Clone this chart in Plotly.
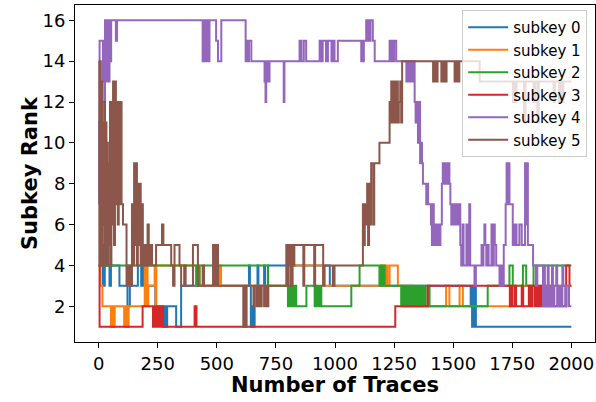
import plotly.graph_objects as go

# ---- data: change points (x = number of traces, y = rank), drawn as steps ----
names = ["subkey 0", "subkey 1", "subkey 2", "subkey 3", "subkey 4", "subkey 5"]
colors = ["#1f77b4", "#ff7f0e", "#2ca02c", "#d62728", "#9467bd", "#8c564b"]

s0_x = [0, 10, 18, 26, 32, 46, 52, 88, 122, 126, 132, 166, 180, 186, 192, 240, 271, 278, 285, 290, 328, 349,
        636, 640, 644, 648, 652, 660, 672, 676, 700, 704, 716, 978, 1574, 1577, 1580, 1584, 1588, 1592, 1596, 2000]
s0_y = [4, 5, 3, 5, 4, 3, 4, 3, 1, 2, 3, 4, 3, 4, 3, 2, 1, 2, 1, 2, 1, 3,
        4, 3, 1, 2, 1, 3, 4, 3, 4, 3, 4, 3, 2, 3, 1, 3, 1, 3, 1, 1]

s1_x = [0, 8, 16, 52, 58, 62, 68, 108, 114, 118, 124, 195, 199, 202, 207, 210, 237, 241, 244, 413, 420, 427,
        512, 518, 808, 814, 822, 950, 1195, 1200, 1209, 1213, 1218, 1222, 1231, 1266, 1290, 1296, 1302, 1308,
        1318, 1324, 1330, 1470, 1484, 1527, 1541, 1740, 2000]
s1_y = [4, 3, 2, 1, 2, 1, 2, 1, 2, 1, 2, 4, 2, 4, 2, 3, 4, 2, 4, 3, 4, 3,
        4, 3, 4, 3, 4, 3, 4, 3, 4, 3, 4, 3, 4, 3, 2, 3, 2, 3,
        2, 3, 2, 3, 2, 3, 2, 3, 3]

s2_x = [0, 6, 413, 418, 422, 427, 717, 801, 806, 812, 818, 824, 830, 836, 879, 914, 920, 928, 934, 942,
        1069, 1104, 1188, 1194, 1200, 1205, 1210, 1280, 1286, 1292, 1300, 1306, 1314, 1320, 1328, 1334,
        1342, 1350, 1358, 1366, 1374, 1382, 1392, 1400, 1646, 1738, 1752, 1795, 1809, 1840, 2000]
s2_y = [11, 4, 3, 4, 3, 4, 3, 2, 3, 2, 3, 2, 3, 2, 3, 2, 3, 2, 3, 2,
        3, 4, 3, 4, 3, 4, 3, 2, 3, 2, 3, 2, 3, 2, 3, 2,
        3, 2, 3, 2, 3, 2, 3, 2, 3, 4, 3, 4, 3, 4, 4]

s3_x = [0, 4, 186, 230, 234, 240, 246, 252, 258, 264, 268, 272, 406, 414, 1255, 1392, 1740, 1746, 1750,
        1760, 1766, 1790, 1796, 1820, 1828, 1836, 1846, 1850, 1856, 1860, 1866, 1872, 1878, 1884, 1890,
        1900, 1906, 1915, 1922, 1978, 1992, 2000]
s3_y = [4, 1, 2, 1, 2, 1, 2, 1, 2, 1, 2, 1, 2, 1, 2, 3, 2, 3, 2,
        3, 2, 3, 2, 3, 2, 3, 2, 3, 2, 3, 2, 3, 2, 3, 2,
        3, 2, 3, 2, 4, 3, 3]

s4_x = [0, 2, 4, 18, 21, 24, 27, 31, 34, 37, 40, 43, 46, 49, 53, 73, 78, 440, 443, 446, 449, 452, 455, 458,
        463, 466, 469, 497, 505, 519, 622, 626, 630, 636, 646, 660, 702, 706, 709, 716, 723, 783, 786,
        850, 858, 868, 878, 935, 943, 948, 962, 970, 985, 990, 998, 1012, 1111, 1114, 1118, 1122, 1132,
        1136, 1140, 1146, 1150, 1160, 1168, 1231, 1236, 1240, 1245, 1250, 1259, 1302, 1305, 1308, 1312,
        1316, 1320, 1325, 1330, 1337, 1341, 1345, 1351, 1356, 1360, 1364, 1368, 1372, 1386, 1390, 1394,
        1406, 1410, 1414, 1418, 1422, 1430, 1434, 1440, 1446, 1452, 1456, 1460, 1464, 1468, 1472, 1476,
        1480, 1484, 1488, 1492, 1500, 1505, 1510, 1516, 1524, 1530, 1534, 1540, 1544, 1556, 1560, 1568,
        1572, 1590, 1596, 1620, 1624, 1628, 1632, 1636, 1640, 1646, 1650, 1662, 1666, 1672, 1676, 1682,
        1696, 1704, 1710, 1714, 1722, 1726, 1730, 1734, 1738, 1752, 1760, 1768, 1780, 1790, 1804, 1808,
        1812, 1816, 1838, 1850, 1856, 1880, 1884, 1888, 1892, 1896, 1900, 1904, 1908, 1912, 1918, 1922,
        1928, 1936, 1940, 1948, 1956, 1962, 1966, 1974, 1980, 1990, 2000]
s4_y = [7, 11, 15, 13, 15, 12, 16, 13, 16, 13, 16, 13, 16, 14, 16, 15, 16, 14, 16, 14, 16, 14, 16, 14,
        16, 14, 16, 15, 14, 16, 14, 15, 14, 15, 14, 14, 13, 12, 14, 13, 14, 12, 14,
        15, 14, 15, 14, 15, 14, 15, 14, 15, 14, 15, 14, 15, 14, 15, 14, 15, 16,
        15, 16, 15, 16, 15, 14, 15, 14, 15, 14, 15, 14, 13, 14, 13, 14,
        13, 14, 13, 14, 12, 11, 12, 10, 12, 9, 10, 9, 8, 7, 8, 7,
        6, 5, 7, 5, 6, 5, 6, 5, 6, 8, 9, 8, 9, 8, 9, 8,
        9, 8, 7, 6, 7, 6, 7, 6, 7, 5, 4, 6, 4, 6, 4, 7,
        4, 3, 4, 5, 4, 5, 6, 5, 4, 5, 4, 6, 4, 6, 5, 4,
        3, 4, 3, 5, 7, 9, 7, 9, 7, 5, 6, 5, 6, 5, 9, 6,
        9, 5, 4, 3, 4, 2, 4, 2, 3, 2, 4, 2, 3, 2, 4, 2,
        3, 4, 2, 3, 2, 4, 3, 2, 3, 2, 2]

s5_x = [0, 3, 6, 9, 12, 15, 18, 21, 24, 27, 30, 33, 36, 39, 42, 45, 48, 51, 54, 58, 61, 65, 69, 73, 77,
        81, 85, 89, 93, 97, 103, 118, 126, 134, 141, 146, 150, 154, 158, 162, 166, 170, 174, 178, 183,
        187, 192, 200, 207, 212, 218, 226, 243, 268, 274, 307, 315, 321, 342, 349, 362, 368, 399, 420,
        440, 446, 484, 488, 492, 496, 500, 505, 612, 616, 620, 626, 655, 660, 670, 676, 684, 690, 700,
        706, 712, 718, 794, 798, 802, 806, 810, 814, 818, 822, 828, 866, 870, 912, 916, 950, 956, 991,
        998, 1118, 1122, 1126, 1130, 1136, 1140, 1144, 1148, 1153, 1162, 1166, 1188, 1231, 1234, 1238,
        1242, 1246, 1250, 1254, 1258, 1262, 1266, 1270, 1276, 1280, 1284, 1415, 1418, 1422, 1426, 1430,
        1434, 1450, 1454, 1458, 1462, 1468, 1472, 1506, 1510, 1514, 1518, 1522, 1526, 1612, 1753, 1757,
        1762, 1768, 1800, 1806, 1840, 1846, 1856, 1862, 1925, 1930, 1948, 1955, 1962, 1966, 2000]
s5_y = [14, 4, 14, 5, 13, 4, 11, 6, 12, 4, 11, 5, 10, 4, 9, 5, 12, 4, 12, 6, 13, 5, 13, 7, 12,
        6, 12, 7, 12, 7, 6, 3, 4, 3, 7, 4, 9, 5, 9, 4, 8, 5, 8, 4, 7,
        4, 5, 4, 6, 4, 5, 4, 5, 6, 5, 4, 3, 5, 4, 3, 4, 3, 5, 3,
        4, 3, 5, 3, 5, 3, 5, 3, 1, 3, 1, 3, 2, 3, 2, 3, 2, 3, 2,
        3, 2, 3, 5, 3, 5, 4, 5, 3, 5, 4, 5, 3, 5, 3, 5, 3, 4, 3,
        4, 7, 5, 7, 6, 8, 5, 8, 6, 9, 6, 9, 10, 12, 11, 13,
        11, 12, 13, 11, 12, 13, 11, 12, 13, 11, 14, 13, 14, 13, 14, 13,
        14, 13, 14, 13, 14, 13, 14, 13, 14, 13, 14, 13, 14, 13, 12, 13,
        12, 13, 11, 13, 12, 13, 11, 13, 12, 13, 12, 13, 12, 13, 13]

series_x = [s0_x, s1_x, s2_x, s3_x, s4_x, s5_x]
series_y = [s0_y, s1_y, s2_y, s3_y, s4_y, s5_y]

x_ticks = [0, 250, 500, 750, 1000, 1250, 1500, 1750, 2000]
y_ticks = [2, 4, 6, 8, 10, 12, 14, 16]
x_title = "Number of Traces"
y_title = "Subkey Rank"

fig = go.Figure()
for name, c, xs, ys in zip(names, colors, series_x, series_y):
    fig.add_trace(go.Scatter(x=xs, y=ys, mode="lines", name=name,
                             line=dict(color=c, width=2, shape="hv")))

font_family = "DejaVu Sans"
fig.update_layout(
    width=596, height=402,
    margin=dict(l=75, r=1, t=5, b=60, autoexpand=False),
    plot_bgcolor="white", paper_bgcolor="white",
    font=dict(family=font_family, color="black", size=18),
    showlegend=True,
    legend=dict(x=0.985, y=0.985, xanchor="right", yanchor="top", itemwidth=40,
                bgcolor="rgba(255,255,255,0.8)", bordercolor="#cccccc", borderwidth=1,
                font=dict(size=15, family=font_family)),
    annotations=[
        dict(text="<b>" + x_title + "</b>", xref="paper", yref="paper", x=0.5, y=-0.1275,
             xanchor="center", yanchor="middle", showarrow=False, font=dict(size=21)),
        dict(text="<b>" + y_title + "</b>", xref="paper", yref="paper", x=-0.0874, y=0.5,
             xanchor="center", yanchor="middle", showarrow=False, textangle=-90, font=dict(size=21)),
    ],
)
fig.update_xaxes(range=[-100, 2100], tickvals=x_ticks, ticktext=[str(v) for v in x_ticks],
                 showline=True, linecolor="black", linewidth=1, mirror=True, automargin=False,
                 ticks="outside", ticklen=5, tickcolor="black", showgrid=False, zeroline=False)
fig.update_yaxes(range=[0.25, 16.75], tickvals=y_ticks, ticktext=[str(v) for v in y_ticks],
                 showline=True, linecolor="black", linewidth=1, mirror=True, automargin=False,
                 ticks="outside", ticklen=5, tickcolor="black", showgrid=False, zeroline=False)

fig.write_html("out.html", config={"displayModeBar": False},
               post_script="document.body.style.margin='0';document.body.style.overflow='hidden';")
